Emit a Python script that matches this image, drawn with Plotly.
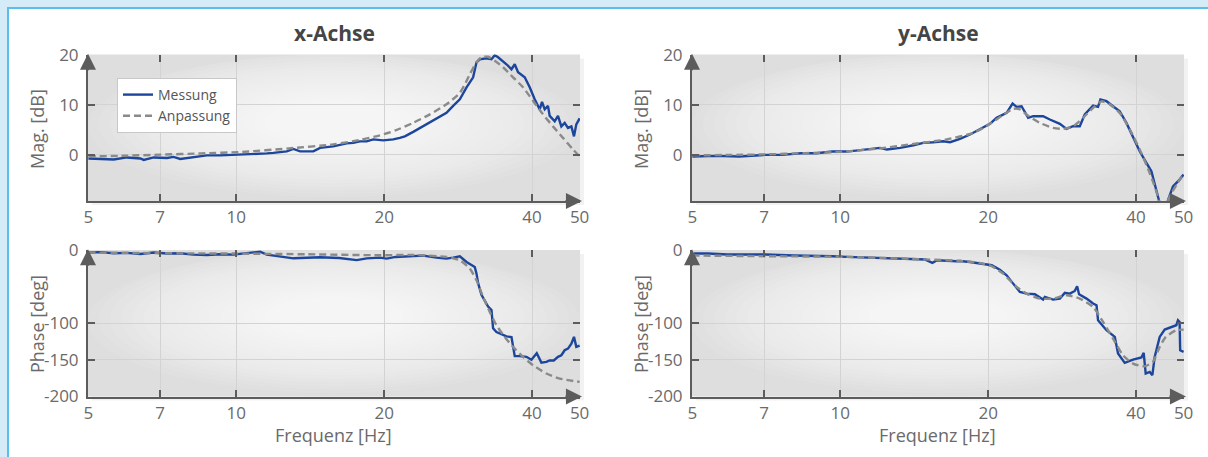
import math
import plotly.graph_objects as go

# ---------------- data ----------------
# x-Achse, magnitude
fx_mag_meas = [5.00, 5.29, 5.63, 5.99, 6.38, 6.48, 6.79, 7.23, 7.45, 7.69, 8.18, 8.71, 9.27, 9.87,
               10.27, 10.84, 11.54, 11.90, 12.67, 13.07, 13.49, 14.35, 14.81, 15.76, 16.78, 17.31,
               17.86, 18.43, 19.01, 19.91, 20.87, 21.53, 22.04, 22.92, 24.01, 24.78, 25.76, 26.79,
               27.64, 28.52, 29.43, 30.35, 30.84, 31.32, 32.31, 33.08, 33.59, 34.12, 35.49, 36.33,
               36.89, 37.47, 38.66, 39.57, 40.51, 41.47, 41.92, 42.45, 43.11, 43.46, 44.49, 45.18,
               45.90, 46.62, 47.35, 48.11, 48.70, 49.23, 50.0]
x_mag_meas = [-0.7, -0.8, -0.9, -0.5, -0.7, -1.0, -0.5, -0.6, -0.4, -0.8, -0.5, -0.1, -0.1, 0.0,
              0.0, 0.1, 0.3, 0.4, 0.7, 1.2, 0.7, 0.7, 1.4, 1.7, 2.3, 2.4,
              2.7, 2.7, 3.1, 2.9, 3.1, 3.4, 3.7, 4.6, 5.7, 6.4, 7.4, 8.4,
              9.8, 11.1, 13.5, 15.5, 18.5, 19.1, 19.3, 19.1, 19.9, 19.5, 18.1, 17.1,
              18.1, 16.5, 15.5, 13.5, 11.1, 9.1, 10.6, 9.1, 9.8, 7.8, 6.7, 7.8,
              5.7, 6.4, 5.4, 5.7, 3.7, 6.1, 7.3]
fx_mag_fit = [5.0, 6.0, 7.0, 8.5, 10.27, 12.8, 15.76, 17.86, 19.6, 21.1, 22.92, 24.78, 26.79,
              28.52, 29.2, 29.88, 30.84, 31.56, 32.56, 33.59, 34.93, 36.6, 38.35, 40.19, 42.12,
              44.13, 46.25, 48.46, 50.0]
x_mag_fit = [-0.3, -0.15, 0.05, 0.3, 0.6, 1.3, 2.1, 3.0, 3.9, 4.9, 6.4, 8.1, 10.1,
             12.4, 14.1, 16.1, 18.5, 19.5, 19.6, 18.8, 17.5, 15.5, 13.5, 10.8, 8.1,
             5.7, 3.4, 1.1, -0.3]

# y-Achse, magnitude
fy_mag_meas = [5.0, 5.58, 6.22, 7.04, 7.60, 8.32, 8.95, 9.63, 10.32, 11.14, 12.05, 12.44, 13.24,
               14.09, 14.76, 15.47, 16.21, 16.73, 17.53, 18.37, 19.25, 20.17, 20.81, 21.81, 22.43,
               22.85, 23.39, 24.13, 24.70, 25.88, 26.71, 27.99, 28.88, 29.78, 30.73, 31.46, 32.71,
               33.48, 33.86, 34.83, 35.92, 37.06, 38.24, 39.44, 40.70, 42.00, 42.99, 44.55, 45.4,
               46.47, 47.57, 49.07, 50.0]
y_mag_meas = [-0.33, -0.2, -0.33, 0.0, 0.0, 0.33, 0.33, 0.67, 0.67, 1.0, 1.4, 1.07, 1.4,
              1.93, 2.4, 2.53, 2.73, 2.53, 3.2, 4.07, 5.2, 6.2, 7.4, 8.4, 10.27,
              9.6, 9.73, 7.4, 7.73, 7.73, 7.07, 6.2, 5.2, 5.73, 5.73, 8.07, 9.87,
              9.6, 11.07, 10.73, 9.73, 8.73, 6.4, 3.73, 0.73, -1.6, -3.27, -9.07, -20.0,
              -9.07, -6.27, -4.93, -3.93]
fy_mag_fit = [5.0, 6.0, 7.0, 8.5, 10.0, 12.05, 14.09, 16.47, 18.66, 20.17, 21.46, 22.49, 23.21,
              24.13, 25.49, 27.12, 28.42, 29.78, 31.21, 32.71, 34.02, 35.37, 37.06, 38.84, 40.70,
              42.65, 44.55, 45.4, 46.47, 48.32, 50.0]
y_mag_fit = [-0.1, 0.0, 0.1, 0.35, 0.6, 1.3, 2.2, 3.1, 4.4, 6.2, 8.0, 9.2, 9.1,
             7.8, 6.4, 5.4, 5.2, 5.7, 7.4, 9.4, 10.7, 10.1, 8.4, 5.1, 1.1,
             -3.6, -9.1, -20.0, -9.1, -6.0, -3.7]

# x-Achse, phase
fx_ph_meas = [5.00, 5.29, 5.63, 5.99, 6.38, 6.79, 7.23, 7.69, 8.18, 8.71, 9.27, 9.87, 10.27, 11.18,
              11.54, 12.28, 13.07, 14.81, 16.2, 17.59, 18.43, 19.6, 20.24, 21.1, 22.56, 24.01,
              25.57, 26.79, 27.64, 28.52, 29.43, 30.59, 30.84, 31.07, 31.56, 32.56, 33.08, 33.33,
              33.86, 35.49, 36.33, 36.89, 37.76, 38.97, 39.89, 40.9, 41.8, 42.79, 43.46, 44.3,
              45.18, 45.90, 46.62, 47.35, 48.11, 48.70, 49.23, 50.0]
x_ph_meas = [-3, -2.5, -4, -3.5, -5, -3, -4.5, -4, -6, -6.5, -5.5, -6, -4.5, -2,
             -6, -9, -11, -9.5, -10.5, -13.5, -11, -10, -11.4, -9.1, -8.2, -7.3,
             -10, -11.4, -10, -8.2, -16, -23, -32, -45, -61, -77, -82, -107,
             -112, -118, -119, -145, -145, -146, -150, -141, -154, -153, -151, -151,
             -146, -143.8, -137, -134.7, -128, -118.7, -132.4, -130.5]
fx_ph_fit = [5.0, 7.0, 10.0, 14.0, 19.6, 22.92, 26.79, 28.52, 29.88, 30.84, 31.80, 32.82, 33.86,
             35.20, 36.60, 38.35, 40.19, 42.79, 45.54, 50.0]
x_ph_fit = [-3, -4, -4.5, -5.5, -6.8, -6.4, -9.1, -13.7, -25.1, -41.1, -63.9, -84.5, -102.7,
            -118.7, -132.4, -146.1, -157.5, -168.9, -175.8, -180.4]

# y-Achse, phase
fy_ph_meas = [5.04, 5.38, 5.89, 7.04, 8.02, 8.95, 9.63, 10.32, 11.56, 12.88, 13.86, 14.90, 15.40,
              15.74, 17.24, 17.53, 18.37, 19.25, 20.34, 21.13, 21.81, 22.49, 23.21, 23.95, 24.90,
              25.88, 26.09, 27.12, 27.99, 28.65, 29.33, 30.02, 30.35, 30.63, 31.72, 32.71, 33.24,
              33.48, 34.83, 36.21, 36.77, 37.94, 39.44, 41.03, 41.47, 41.67, 41.86, 42.65, 43.19,
              43.66, 44.70, 45.76, 47.20, 48.32, 48.70, 49.07, 49.2, 50.0]
y_ph_meas = [-4.4, -4.4, -5.8, -5.8, -7.2, -7.2, -8.1, -9, -10.4, -11.8, -12.7, -12.7, -17.3,
             -13.6, -15, -14.6, -16, -18.3, -20.5, -26.5, -34.2, -45.7, -57.1, -59.4, -60.3,
             -67.6, -63.9, -67.6, -66.2, -58.4, -59.4, -55.7, -49.3, -60.3, -66.2, -73, -75.3,
             -95.9, -109.6, -118.7, -141.5, -154.3, -149.8, -147, -140.6, -155.3, -168.9, -166.7, -171.2,
             -146.1, -118.7, -108.7, -105.9, -102.7, -95.9, -98.2, -137, -139.3]
fy_ph_fit = [5.0, 7.04, 10.32, 13.86, 17.53, 19.3, 20.34, 21.46, 22.85, 23.95, 25.49, 27.12, 28.88,
             30.73, 32.71, 34.28, 35.92, 37.64, 39.44, 41.67, 43.30, 44.70, 46.0, 48.32, 50.0]
y_ph_fit = [-7.2, -8.1, -9, -11.8, -14.6, -17.5, -21.9, -32, -50.2, -59.4, -66.2, -66.2, -61.6,
            -66.2, -77.6, -98.2, -121, -143.8, -155.3, -158.9, -152.9, -132.4, -118.7, -109.6, -108.7]

x_tickvals = [5, 7, 10, 20, 40, 50]
x_ticktext = ["5", "7", "10", "20", "40", "50"]
mag_tickvals = [0, 10, 20]
mag_ticktext = ["0", "10", "20"]
ph_tickvals = [0, -100, -150, -200]
ph_ticktext = ["0", "-100", "-150", "-200"]

panel_titles = ["x-Achse", "y-Achse"]
mag_title = "Mag. [dB]"
ph_title = "Phase [deg]"
freq_title = "Frequenz [Hz]"

# ---------------- styling ----------------
W, H = 1208, 457
def px(x): return x / W
def py(y): return 1 - y / H

XL = [px(88), px(580)]
XRt = [px(692), px(1184)]
YT = [py(201), py(54.5)]
YB = [py(396.5), py(250)]

BLUE = "#1c469c"
GRAY = "#8a8a8a"
AX = "#5c5c5c"
GRID = "#d3d3d3"
TXT = "#6a6a6a"
FONT = "Open Sans"

X_RANGE = [math.log10(5) - 0.0008, math.log10(50) + 0.0008]
MAG_RANGE = [-9.2, 20.05]
PH_RANGE = [-200.4, 0.4]

fig = go.Figure()

panels = [
    ("x", "y", fx_mag_meas, x_mag_meas, fx_mag_fit, x_mag_fit, True),
    ("x2", "y2", fy_mag_meas, y_mag_meas, fy_mag_fit, y_mag_fit, False),
    ("x3", "y3", fx_ph_meas, x_ph_meas, fx_ph_fit, x_ph_fit, False),
    ("x4", "y4", fy_ph_meas, y_ph_meas, fy_ph_fit, y_ph_fit, False),
]
for xa, ya, fm, vm, ff, vf, leg in panels:
    fig.add_trace(go.Scatter(x=fm, y=vm, mode="lines", name="Messung",
                             line=dict(color=BLUE, width=2.4),
                             xaxis=xa, yaxis=ya, showlegend=leg, legendgroup="m",
                             hoverinfo="skip"))
    fig.add_trace(go.Scatter(x=ff, y=vf, mode="lines", name="Anpassung",
                             line=dict(color=GRAY, width=2.4, dash="7px,4px",
                                       shape="spline", smoothing=0.6),
                             xaxis=xa, yaxis=ya, showlegend=leg, legendgroup="a",
                             hoverinfo="skip"))

# empty helper traces so the mirrored-tick overlay axes are registered
for i, (bx, by) in enumerate([("x", "y"), ("x2", "y2"), ("x3", "y3"), ("x4", "y4")]):
    n = 5 + i
    fig.add_trace(go.Scatter(x=[], y=[], xaxis=f"x{n}", yaxis=by, showlegend=False,
                             hoverinfo="skip"))
    fig.add_trace(go.Scatter(x=[], y=[], xaxis=bx, yaxis=f"y{n}", showlegend=False,
                             hoverinfo="skip"))

tickfont = dict(family=FONT, size=17, color=TXT)

def xaxis_cfg(domain, anchor):
    return dict(domain=domain, anchor=anchor, type="log", range=X_RANGE,
                tickmode="array", tickvals=x_tickvals, ticktext=x_ticktext,
                ticks="inside", ticklen=7, tickwidth=2, tickcolor=AX,
                showline=True, linecolor=AX, linewidth=2,
                showgrid=True, gridcolor=GRID, gridwidth=1, zeroline=False,
                tickfont=tickfont, fixedrange=True)

def yaxis_cfg(domain, anchor, rng, tv, tt):
    return dict(domain=domain, anchor=anchor, range=rng,
                tickmode="array", tickvals=tv, ticktext=tt,
                ticks="inside", ticklen=7, tickwidth=2, tickcolor=AX,
                showline=True, linecolor=AX, linewidth=2,
                showgrid=True, gridcolor=GRID, gridwidth=1, zeroline=False,
                tickfont=tickfont, ticklabelstandoff=4, fixedrange=True)

layout = dict(
    xaxis=xaxis_cfg(XL, "y"), yaxis=yaxis_cfg(YT, "x", MAG_RANGE, mag_tickvals, mag_ticktext),
    xaxis2=xaxis_cfg(XRt, "y2"), yaxis2=yaxis_cfg(YT, "x2", MAG_RANGE, mag_tickvals, mag_ticktext),
    xaxis3=xaxis_cfg(XL, "y3"), yaxis3=yaxis_cfg(YB, "x3", PH_RANGE, ph_tickvals, ph_ticktext),
    xaxis4=xaxis_cfg(XRt, "y4"), yaxis4=yaxis_cfg(YB, "x4", PH_RANGE, ph_tickvals, ph_ticktext),
)

# mirrored tick marks (top / right) via overlay axes
base = [("x", "y", MAG_RANGE, mag_tickvals), ("x2", "y2", MAG_RANGE, mag_tickvals),
        ("x3", "y3", PH_RANGE, ph_tickvals), ("x4", "y4", PH_RANGE, ph_tickvals)]
for i, (bx, by, yr, ytv) in enumerate(base):
    n = 5 + i
    layout[f"xaxis{n}"] = dict(overlaying=bx, side="top", anchor=by, type="log", range=X_RANGE,
                               tickmode="array", tickvals=x_tickvals, ticks="inside",
                               ticklen=7, tickwidth=2, tickcolor=AX, showticklabels=False,
                               showgrid=False, showline=False, zeroline=False, fixedrange=True)
    layout[f"yaxis{n}"] = dict(overlaying=by, side="right", anchor=bx, range=yr,
                               tickmode="array", tickvals=ytv, ticks="inside",
                               ticklen=7, tickwidth=2, tickcolor=AX, showticklabels=False,
                               showgrid=False, showline=False, zeroline=False, fixedrange=True)

shapes = []
# frame
LB = "#d6ebf8"
BB = "#58bfea"
shapes += [
    dict(type="rect", xref="paper", yref="paper", x0=0, x1=px(7), y0=0, y1=1,
         fillcolor=LB, line=dict(width=0), layer="below"),
    dict(type="rect", xref="paper", yref="paper", x0=0, x1=1, y0=py(7), y1=1,
         fillcolor=LB, line=dict(width=0), layer="below"),
    dict(type="rect", xref="paper", yref="paper", x0=px(7), x1=px(9), y0=0, y1=py(7),
         fillcolor=BB, line=dict(width=0), layer="below"),
    dict(type="rect", xref="paper", yref="paper", x0=px(7), x1=1, y0=py(9), y1=py(7),
         fillcolor=BB, line=dict(width=0), layer="below"),
]
# background vignette (nested soft ellipses) + soft shadow
for xa, ya in [("x", "y"), ("x2", "y2"), ("x3", "y3"), ("x4", "y4")]:
    N = 22
    for k in range(N):
        r = 0.5 - k * (0.47 / (N - 1))
        cx, cy = 0.5, 0.55
        shapes.append(dict(type="circle", xref=f"{xa} domain", yref=f"{ya} domain",
                           x0=cx - r, x1=cx + r,
                           y0=max(0, cy - r * 1.05), y1=min(1, cy + r * 0.95),
                           fillcolor="white", opacity=0.085, line=dict(width=0), layer="below"))
for xd, yd in [(XL, YT), (XRt, YT), (XL, YB), (XRt, YB)]:
    d = 1 - py(4)
    shapes.append(dict(type="rect", xref="paper", yref="paper",
                       x0=xd[1], x1=xd[1] + px(4), y0=yd[0] - d, y1=yd[1] - d,
                       fillcolor="rgba(0,0,0,0.05)", line=dict(width=0), layer="below"))
    shapes.append(dict(type="rect", xref="paper", yref="paper",
                       x0=xd[0] + px(4), x1=xd[1], y0=yd[0] - d, y1=yd[0],
                       fillcolor="rgba(0,0,0,0.05)", line=dict(width=0), layer="below"))

annotations = []
# axis arrows
for xa, ya in [("x", "y"), ("x2", "y2"), ("x3", "y3"), ("x4", "y4")]:
    annotations.append(dict(xref=f"{xa} domain", yref=f"{ya} domain", x=0, y=1.005, ax=0, ay=18,
                            axref="pixel", ayref="pixel", text="", showarrow=True,
                            arrowhead=2, arrowsize=1.6, arrowwidth=2, arrowcolor=AX, standoff=0))
    annotations.append(dict(xref=f"{xa} domain", yref=f"{ya} domain", x=1.004, y=0, ax=-18, ay=0,
                            axref="pixel", ayref="pixel", text="", showarrow=True,
                            arrowhead=2, arrowsize=1.6, arrowwidth=2, arrowcolor=AX, standoff=0))

title_font = dict(family=FONT, size=21, color="#454545")
lab_font = dict(family=FONT, size=18, color=TXT)
annotations += [
    dict(xref="paper", yref="paper", x=px(334), y=py(33), text=f"<b>{panel_titles[0]}</b>",
         showarrow=False, font=title_font, xanchor="center", yanchor="middle"),
    dict(xref="paper", yref="paper", x=px(938), y=py(33), text=f"<b>{panel_titles[1]}</b>",
         showarrow=False, font=title_font, xanchor="center", yanchor="middle"),
]
for xpos in (37, 641):
    annotations.append(dict(xref="paper", yref="paper", x=px(xpos), y=py(129), text=mag_title,
                            textangle=-90, showarrow=False, font=lab_font,
                            xanchor="center", yanchor="middle"))
    annotations.append(dict(xref="paper", yref="paper", x=px(xpos), y=py(324), text=ph_title,
                            textangle=-90, showarrow=False, font=lab_font,
                            xanchor="center", yanchor="middle"))
for xpos in (333, 937):
    annotations.append(dict(xref="paper", yref="paper", x=px(xpos), y=py(435), text=freq_title,
                            showarrow=False, font=lab_font, xanchor="center", yanchor="middle"))

fig.update_layout(
    **layout,
    width=W, height=H,
    margin=dict(l=0, r=0, t=0, b=0),
    paper_bgcolor="white",
    plot_bgcolor="#dedede",
    template="none",
    hovermode=False,
    showlegend=True,
    legend=dict(x=px(117), y=py(78), xanchor="left", yanchor="top",
                bgcolor="white", bordercolor="#c8c8c8", borderwidth=1,
                font=dict(family=FONT, size=14, color="#555555"),
                tracegroupgap=0, itemwidth=30),
    shapes=shapes,
    annotations=annotations,
    font=dict(family=FONT),
)

fig.write_html("out.html", config={"displayModeBar": False},
               post_script="document.body.style.margin='0px';")
